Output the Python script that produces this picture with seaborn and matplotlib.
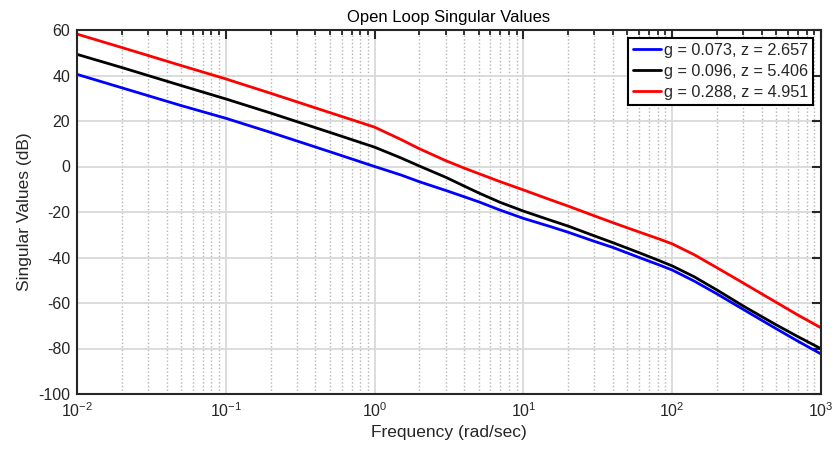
import numpy as np
import pandas as pd
import matplotlib
matplotlib.use("Agg")
import matplotlib.pyplot as plt
import seaborn as sns
from matplotlib.ticker import LogLocator, FixedLocator

# Frequency samples (rad/sec)
freq = [0.01, 0.02, 0.05, 0.1, 0.2, 0.5, 1, 1.5, 2, 3, 4, 5, 7, 10, 15, 20,
        30, 40, 60, 82, 100, 140, 200, 300, 400, 500, 700, 1000]

# Singular values (dB) for each controller
sv_blue = [40.5, 34.6, 26.8, 21.2, 15.0, 6.5, 0.0, -3.7, -6.7, -10.5, -13.3,
           -15.5, -19.2, -22.8, -26.3, -28.9, -32.9, -35.6, -40.0, -43.3,
           -45.5, -50.3, -56.0, -62.8, -67.6, -71.3, -76.8, -82.4]
sv_black = [49.3, 43.5, 35.6, 29.7, 23.5, 15.0, 8.5, 3.8, 0.2, -4.7, -8.6,
            -11.6, -15.8, -19.6, -23.5, -26.2, -30.5, -33.5, -37.9, -41.4,
            -43.7, -48.4, -54.3, -61.3, -66.0, -69.6, -74.8, -80.1]
sv_red = [58.2, 52.3, 44.4, 38.5, 32.2, 23.7, 17.3, 11.9, 7.8, 2.6, -0.7,
          -3.1, -6.7, -10.3, -14.5, -17.4, -21.7, -24.7, -28.8, -31.9,
          -34.0, -38.7, -44.5, -51.2, -56.0, -59.7, -65.3, -70.9]

labels = ["g = 0.073, z = 2.657", "g = 0.096, z = 5.406", "g = 0.288, z = 4.951"]
colors = ["#0000ff", "#000000", "#ff0000"]

y_ticks = [-100, -80, -60, -40, -20, 0, 20, 40, 60]

df = pd.concat([
    pd.DataFrame({"freq": freq, "sv": vals, "case": lab})
    for vals, lab in zip([sv_blue, sv_black, sv_red], labels)
], ignore_index=True)

sns.set_style("white")
plt.rcParams["font.family"] = ["Liberation Sans", "DejaVu Sans"]
plt.rcParams["mathtext.fontset"] = "custom"
plt.rcParams["mathtext.rm"] = "Liberation Sans"
plt.rcParams["mathtext.it"] = "Liberation Sans:italic"
plt.rcParams["axes.unicode_minus"] = False

fig = plt.figure(figsize=(8.35, 4.57), dpi=100)
ax = fig.add_axes([77 / 835, 1 - 394 / 457, 744 / 835, 364 / 457])

sns.lineplot(data=df, x="freq", y="sv", hue="case", hue_order=labels,
             palette=colors, linewidth=2.0, ax=ax, sort=False, estimator=None)

ax.set_xscale("log")
ax.set_xlim(1e-2, 1e3)
ax.set_ylim(-100, 60)
ax.yaxis.set_major_locator(FixedLocator(y_ticks))
ax.xaxis.set_major_locator(LogLocator(base=10, numticks=10))
ax.xaxis.set_minor_locator(LogLocator(base=10, subs=np.arange(2, 10), numticks=20))

dark = "#262626"
ax.grid(True, which="major", axis="both", color="#d9d9d9", linestyle="-", linewidth=1.3)
ax.grid(True, which="minor", axis="x", color="#b5b5b5", linestyle=(0, (1, 1.6)), linewidth=1.0)
ax.set_axisbelow(True)

for s in ax.spines.values():
    s.set_visible(True)
    s.set_color(dark)
    s.set_linewidth(1.5)

ax.tick_params(which="major", direction="in", length=6.5, width=1.5, color=dark,
               top=True, right=True, labelsize=11.5, labelcolor=dark, pad=5)
ax.tick_params(which="minor", direction="in", length=3.5, width=1.3, color=dark,
               top=True, right=True, left=False)
ax.tick_params(axis="y", which="minor", left=False, right=False)

ax.set_xlabel("Frequency (rad/sec)", fontsize=12.5, color=dark, labelpad=4)
ax.set_ylabel("Singular Values (dB)", fontsize=12.5, color=dark, labelpad=4)
ax.set_title("Open Loop Singular Values", fontsize=12, color="black", pad=6)

handles, labs = ax.get_legend_handles_labels()
leg = ax.legend(handles, labs, loc="upper right",
                bbox_to_anchor=(1 - 8.3 / 744, 1 - 7.7 / 364), borderaxespad=0,
                fontsize=11.7, frameon=True, fancybox=False, framealpha=1,
                edgecolor="black", handlelength=1.7, handletextpad=0.16,
                labelspacing=0.38, borderpad=0.3)
leg.get_frame().set_linewidth(1.5)
for line in leg.get_lines():
    line.set_linewidth(2.0)

fig.savefig("out.png", dpi=100)
